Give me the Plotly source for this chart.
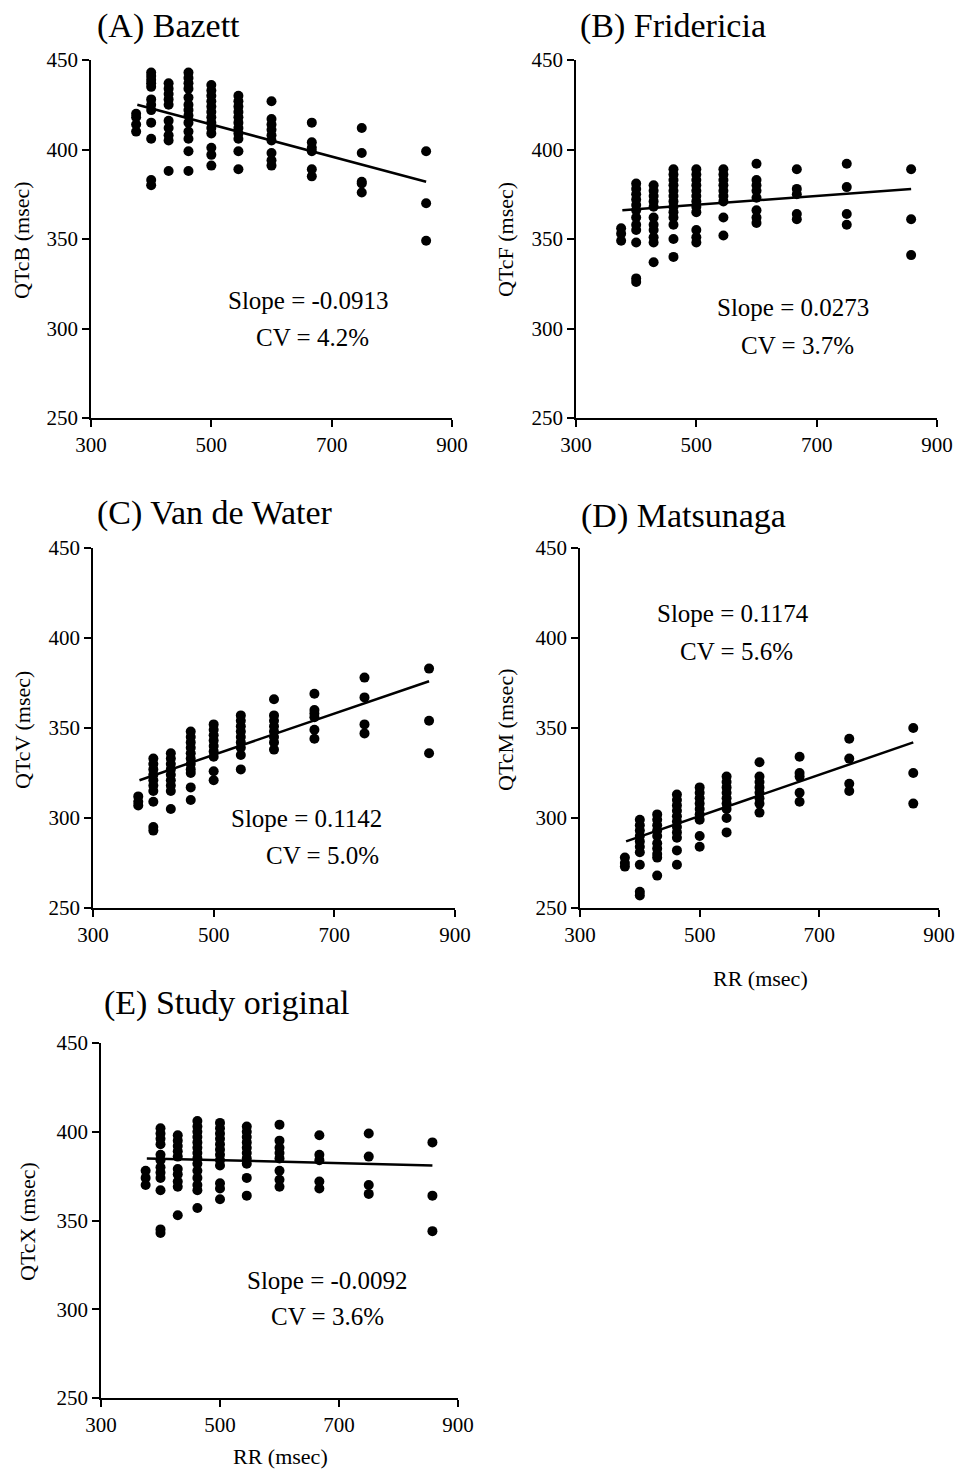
import plotly.graph_objects as go

W, H = 962, 1470
FONT = "Liberation Serif, Times New Roman, serif"

# RR levels (msec) at which QTc values are plotted
rr_levels = [375, 400, 429, 462, 500, 545, 600, 667, 750, 857]

# (A) Bazett QTcB values per RR level
qtcb_cols = [
    [410, 414, 418, 420],
    [443, 441, 439, 437, 435, 428, 425, 422, 415, 406, 383, 380],
    [437, 434, 431, 428, 425, 416, 412, 408, 405, 388],
    [443, 440, 437, 434, 429, 425, 422, 419, 415, 410, 406, 399, 388],
    [436, 433, 430, 427, 424, 421, 418, 415, 412, 409, 401, 397, 391],
    [430, 427, 424, 421, 418, 415, 412, 409, 406, 399, 389],
    [427, 417, 414, 411, 408, 405, 398, 394, 391],
    [415, 404, 401, 399, 389, 385],
    [412, 398, 382, 381, 376],
    [399, 370, 349],
]
# (B) Fridericia QTcF
qtcf_cols = [
    [356, 353, 349],
    [381, 378, 375, 372, 369, 366, 362, 358, 355, 348, 328, 326],
    [380, 377, 374, 371, 368, 362, 358, 355, 351, 348, 337],
    [389, 386, 383, 380, 377, 374, 371, 368, 365, 362, 358, 350, 340],
    [389, 386, 383, 380, 377, 374, 371, 368, 365, 355, 351, 348],
    [389, 386, 383, 380, 377, 374, 371, 362, 352],
    [392, 383, 380, 377, 373, 366, 362, 359],
    [389, 378, 375, 364, 361],
    [392, 379, 364, 358],
    [389, 361, 341],
]
# (C) Van de Water QTcV
qtcv_cols = [
    [312, 309, 307],
    [333, 330, 327, 324, 321, 318, 315, 309, 295, 293],
    [336, 333, 330, 327, 324, 321, 318, 315, 305],
    [348, 345, 342, 339, 336, 333, 330, 327, 325, 317, 310],
    [352, 349, 346, 343, 340, 337, 334, 326, 321],
    [357, 354, 351, 348, 345, 342, 339, 335, 327],
    [366, 357, 354, 351, 348, 345, 342, 338],
    [369, 360, 358, 356, 349, 344],
    [378, 367, 352, 347],
    [383, 354, 336],
]
# (D) Matsunaga QTcM
qtcm_cols = [
    [278, 275, 273],
    [299, 296, 293, 290, 287, 284, 281, 274, 259, 257],
    [302, 299, 296, 293, 290, 286, 283, 280, 278, 268],
    [313, 310, 307, 304, 301, 298, 295, 292, 289, 282, 274],
    [317, 314, 311, 308, 305, 302, 299, 290, 284],
    [323, 320, 317, 314, 311, 308, 305, 300, 292],
    [331, 323, 320, 317, 314, 311, 308, 303],
    [334, 325, 323, 314, 309],
    [344, 333, 319, 315],
    [350, 325, 308],
]
# (E) Study original QTcX
qtcx_cols = [
    [378, 374, 370],
    [402, 399, 396, 393, 387, 384, 380, 377, 374, 367, 345, 343],
    [398, 395, 392, 389, 386, 379, 376, 372, 369, 353],
    [406, 403, 400, 397, 394, 391, 388, 385, 382, 378, 374, 370, 367, 357],
    [405, 402, 399, 396, 393, 390, 387, 384, 381, 371, 368, 362],
    [403, 400, 397, 394, 391, 388, 385, 382, 374, 364],
    [404, 395, 391, 388, 385, 378, 373, 369],
    [398, 387, 384, 372, 368],
    [399, 386, 370, 365],
    [394, 364, 344],
]

# Regression line end points
fit_x = [377, 857]
fit_b = [425, 382]
fit_f = [366, 378]
fit_v = [321, 376]
fit_m = [287, 342]
fit_x_e = [377, 857]
fit_e = [385, 381]

titles = ["(A) Bazett", "(B) Fridericia", "(C) Van de Water", "(D) Matsunaga", "(E) Study original"]
ylabels = ["QTcB (msec)", "QTcF (msec)", "QTcV (msec)", "QTcM (msec)", "QTcX (msec)"]
slopes = ["Slope = -0.0913", "Slope = 0.0273", "Slope = 0.1142", "Slope = 0.1174", "Slope = -0.0092"]
cvs = ["CV = 4.2%", "CV = 3.7%", "CV = 5.0%", "CV = 5.6%", "CV = 3.6%"]
x_ticks = [300, 500, 700, 900]
y_ticks = [250, 300, 350, 400, 450]

panels = [
    dict(cols=qtcb_cols, fx=fit_x, fy=fit_b, box=(91, 452, 60, 418),
         title=(95, 26), ylab=(22, 240), slope=(308, 300), cv=(312, 337), xlab=None),
    dict(cols=qtcf_cols, fx=fit_x, fy=fit_f, box=(576, 937, 60, 418),
         title=(578, 26), ylab=(506, 240), slope=(793, 307), cv=(797, 345), xlab=None),
    dict(cols=qtcv_cols, fx=fit_x, fy=fit_v, box=(93, 455, 548, 908),
         title=(95, 513), ylab=(22, 730), slope=(306, 818), cv=(322, 855), xlab=None),
    dict(cols=qtcm_cols, fx=fit_x, fy=fit_m, box=(580, 939, 548, 908),
         title=(579, 516), ylab=(505, 730), slope=(733, 613), cv=(736, 651), xlab=(760, 978)),
    dict(cols=qtcx_cols, fx=fit_x_e, fy=fit_e, box=(101, 458, 1043, 1398),
         title=(102, 1003), ylab=(27, 1222), slope=(327, 1280), cv=(327, 1316), xlab=(280, 1456)),
]

def px(x):
    return x / W

def py(y):
    return 1 - y / H

fig = go.Figure()
annotations = []
layout_axes = {}

for i, p in enumerate(panels):
    n = "" if i == 0 else str(i + 1)
    xs, ys = [], []
    for rr, col in zip(rr_levels, p["cols"]):
        for v in col:
            xs.append(rr)
            ys.append(v)
    fig.add_trace(go.Scatter(x=xs, y=ys, mode="markers", xaxis="x" + n, yaxis="y" + n,
                             marker=dict(color="black", size=10, line=dict(width=0)),
                             showlegend=False, hoverinfo="skip"))
    fig.add_trace(go.Scatter(x=p["fx"], y=p["fy"], mode="lines", xaxis="x" + n, yaxis="y" + n,
                             line=dict(color="black", width=2.5), showlegend=False, hoverinfo="skip"))
    x0, x1, y0, y1 = p["box"]
    common = dict(showgrid=False, zeroline=False, showline=True, linecolor="black", linewidth=1.5,
                  ticks="outside", ticklen=7, tickwidth=1.5, tickcolor="black", automargin=False,
                  tickfont=dict(family=FONT, size=21, color="black"))
    layout_axes["xaxis" + n] = dict(domain=[px(x0), px(x1)], range=[300, 900], tickvals=x_ticks,
                                    anchor="y" + n, **common)
    layout_axes["yaxis" + n] = dict(domain=[py(y1), py(y0)], range=[250, 450], tickvals=y_ticks,
                                    anchor="x" + n, **common)
    tx, ty = p["title"]
    annotations.append(dict(x=px(tx), y=py(ty), xref="paper", yref="paper", text=titles[i],
                            xanchor="left", yanchor="middle", showarrow=False,
                            font=dict(family=FONT, size=34, color="black")))
    lx, ly = p["ylab"]
    annotations.append(dict(x=px(lx), y=py(ly), xref="paper", yref="paper", text=ylabels[i],
                            textangle=-90, xanchor="center", yanchor="middle", showarrow=False,
                            font=dict(family=FONT, size=22, color="black")))
    sx, sy = p["slope"]
    annotations.append(dict(x=px(sx), y=py(sy), xref="paper", yref="paper", text=slopes[i],
                            xanchor="center", yanchor="middle", showarrow=False,
                            font=dict(family=FONT, size=25, color="black")))
    cx, cy = p["cv"]
    annotations.append(dict(x=px(cx), y=py(cy), xref="paper", yref="paper", text=cvs[i],
                            xanchor="center", yanchor="middle", showarrow=False,
                            font=dict(family=FONT, size=25, color="black")))
    if p["xlab"]:
        xx, xy = p["xlab"]
        annotations.append(dict(x=px(xx), y=py(xy), xref="paper", yref="paper", text="RR (msec)",
                                xanchor="center", yanchor="middle", showarrow=False,
                                font=dict(family=FONT, size=22, color="black")))

fig.update_layout(width=W, height=H, margin=dict(l=0, r=0, t=0, b=0, autoexpand=False),
                  paper_bgcolor="white", plot_bgcolor="white",
                  annotations=annotations, **layout_axes)
fig.write_html("out.html")
